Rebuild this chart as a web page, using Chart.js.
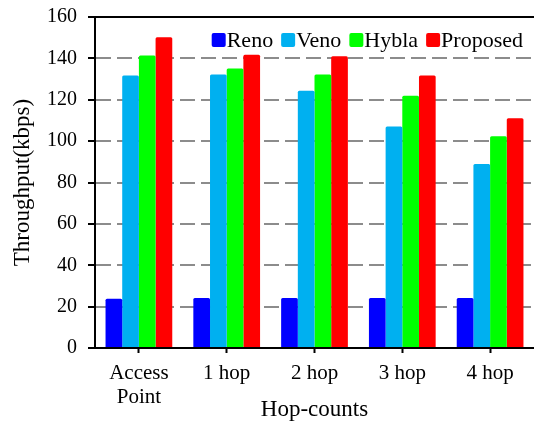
<!DOCTYPE html>
<html>
<head>
<meta charset="utf-8">
<script src="https://cdn.jsdelivr.net/npm/chart.js@4.4.1/dist/chart.umd.min.js"></script>
<style>
  html, body { margin: 0; padding: 0; background: #ffffff; }
  #wrap { width: 534px; height: 424px; position: relative; }
</style>
</head>
<body>
<div id="wrap"><canvas id="chart"></canvas></div>
<script>
// Throughput per hop count for each TCP variant (kbps)
const categories = [['Access', 'Point'], '1 hop', '2 hop', '3 hop', '4 hop'];
const reno     = [23.8, 24.2, 24.2, 24.2, 24.2];
const veno     = [131.7, 132.2, 124.3, 107.1, 89.0];
const hybla    = [141.4, 135.1, 132.2, 121.9, 102.3];
const proposed = [150.2, 141.7, 141.0, 131.7, 111.0];
const yTicks   = [0, 20, 40, 60, 80, 100, 120, 140, 160];

const FONT = '"Liberation Serif", "Times New Roman", serif';

// Legend drawn in the upper right of the plot: box followed directly by its label
const legendPlugin = {
  id: 'compactLegend',
  afterDraw(chart) {
    const { ctx, chartArea } = chart;
    const size = 22, box = 14, gapAfterBox = 1, gapBetween = 8;
    ctx.save();
    ctx.font = size + 'px ' + FONT;
    const items = chart.data.datasets.map(ds => ({
      label: ds.label, color: ds.backgroundColor, w: ctx.measureText(ds.label).width
    }));
    let total = 0;
    items.forEach((it, i) => { total += box + gapAfterBox + it.w + (i ? gapBetween : 0); });
    let x = chartArea.right - 11 - total;
    const baseline = chartArea.top + 30;
    items.forEach(it => {
      ctx.fillStyle = it.color;
      ctx.beginPath();
      ctx.roundRect(x, baseline - 14, box, box, 2);
      ctx.fill();
      x += box + gapAfterBox;
      ctx.fillStyle = '#000';
      ctx.textBaseline = 'alphabetic';
      ctx.fillText(it.label, x, baseline);
      x += it.w + gapBetween;
    });
    ctx.restore();
  }
};

// Solid frame line along the top of the plot area
const topFrame = {
  id: 'topFrame',
  afterDatasetsDraw(chart) {
    const { ctx, chartArea } = chart;
    ctx.save();
    ctx.strokeStyle = '#000';
    ctx.lineWidth = 2;
    ctx.beginPath();
    ctx.moveTo(chartArea.left, chartArea.top);
    ctx.lineTo(chartArea.right, chartArea.top);
    ctx.stroke();
    ctx.restore();
  }
};

const common = { barPercentage: 1, categoryPercentage: 0.76, borderWidth: 0, borderRadius: 1.5 };

new Chart(document.getElementById('chart'), {
  type: 'bar',
  data: {
    labels: categories,
    datasets: [
      { label: 'Reno', data: reno, backgroundColor: '#0000ff', ...common },
      { label: 'Veno', data: veno, backgroundColor: '#00b0f0', ...common },
      { label: 'Hybla', data: hybla, backgroundColor: '#00ff00', ...common },
      { label: 'Proposed', data: proposed, backgroundColor: '#ff0000', ...common }
    ]
  },
  options: {
    responsive: true,
    maintainAspectRatio: false,
    animation: false,
    layout: { padding: { top: 17, right: 0, left: 0, bottom: 0 } },
    plugins: { legend: { display: false }, tooltip: { enabled: false } },
    scales: {
      x: {
        grid: { display: true, drawOnChartArea: false, drawTicks: true, offset: false,
                tickLength: 5, tickColor: '#000', tickWidth: 2 },
        border: { display: true, color: '#000', width: 2 },
        ticks: { color: '#000', font: { family: FONT, size: 21, lineHeight: 1.12 },
                 padding: 9, maxRotation: 0 },
        title: { display: true, text: 'Hop-counts', color: '#000',
                 font: { family: FONT, size: 23 }, padding: { top: 4, bottom: 0 } },
        afterFit(scale) { scale.height = 76; }
      },
      y: {
        min: 0, max: 160,
        afterBuildTicks(scale) { scale.ticks = yTicks.map(v => ({ value: v })); },
        grid: { color: '#8c8c8c', lineWidth: 2, tickColor: '#000', tickWidth: 2, tickLength: 7 },
        border: { display: true, color: '#000', width: 2, dash: [15, 6] },
        ticks: { color: '#000', font: { family: FONT, size: 20 }, padding: 11 },
        title: { display: true, text: 'Throughput(kbps)', color: '#000',
                 font: { family: FONT, size: 23 }, padding: { top: 9, bottom: 0 } },
        afterFit(scale) {
          scale.width = 95;
          scale.paddingTop = 0;
          scale.paddingBottom = 0;
        }
      }
    }
  },
  plugins: [legendPlugin, topFrame]
});
</script>
</body>
</html>
